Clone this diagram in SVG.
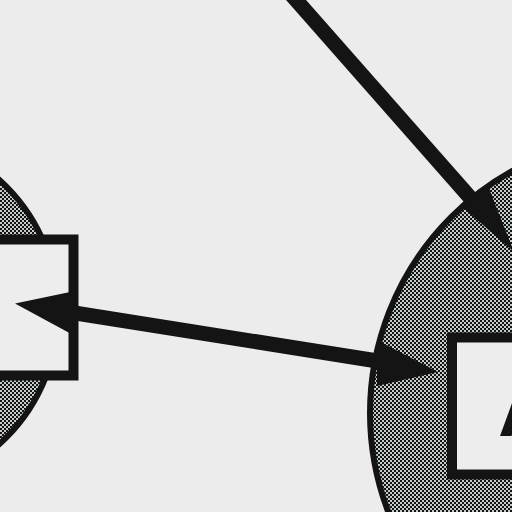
<svg xmlns="http://www.w3.org/2000/svg" width="512" height="512" viewBox="0 0 512 512">
  <defs>
    <pattern id="halftone" x="0" y="0" width="4" height="4" patternUnits="userSpaceOnUse">
      <rect width="4" height="4" fill="#c4cbcb"/>
      <rect x="0" y="0" width="2" height="2" fill="#141414"/>
      <rect x="2" y="2" width="2" height="2" fill="#141414"/>
    </pattern>
    <style>
      .disc { fill: url(#halftone); stroke: #141414; stroke-width: 6; }
      .box { fill: #ededed; stroke: #141414; stroke-width: 10; }
      .shaft { stroke: #141414; stroke-width: 15; fill: none; }
      .head { fill: #141414; }
      .label { font-family: "Liberation Sans", Arial, sans-serif; font-weight: bold; fill: #141414; }
    </style>
  </defs>
  <rect width="512" height="512" fill="#ececec"/>

  <g id="node-left">
    <circle class="disc" cx="-120" cy="312" r="178"/>
    <rect class="box" x="-30" y="239.5" width="103.5" height="136"/>
  </g>

  <g id="node-right">
    <circle class="disc" cx="647" cy="413" r="277"/>
    <rect class="box" x="452" y="337.5" width="110" height="137"/>
    <text class="label" x="498" y="436" font-size="80">A</text>
  </g>

  <g id="connectors">
    <line class="shaft" x1="289" y1="-8" x2="474" y2="202"/>
    <polygon class="head" points="460,205 488,186 514,252"/>
    <line class="shaft" x1="60" y1="310.6" x2="390" y2="363"/>
    <polygon class="head" points="15,303.5 75,291 75,336"/>
    <polygon class="head" points="438,372 377,340 377,386"/>
  </g>
</svg>
